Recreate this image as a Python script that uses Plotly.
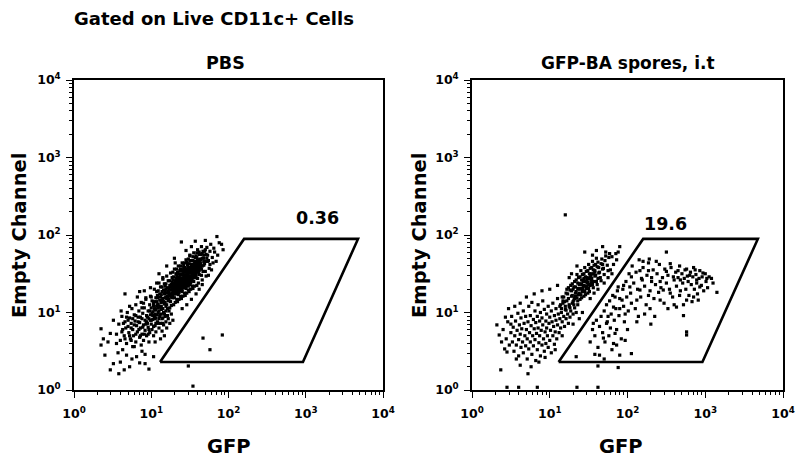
import plotly.graph_objects as go

# ---- Event positions, as log10(value) pairs (GFP, Empty Channel) ----
pbs_core_log = [
    (0.98,1.02),(1.01,1.15),(1.02,0.96),(0.99,1.21),(1.03,1.09),(1.00,0.90),
    (1.04,1.05),(1.06,1.19),(1.05,0.98),(1.07,1.27),(1.03,1.13),(1.06,0.93),(1.08,1.10),(1.04,1.30),
    (1.09,1.11),(1.11,1.24),(1.10,1.02),(1.12,1.33),(1.08,1.19),(1.11,0.97),(1.13,1.15),(1.09,1.28),(1.12,1.07),(1.10,1.38),
    (1.14,1.16),(1.16,1.29),(1.15,1.05),(1.17,1.37),(1.13,1.23),(1.16,1.00),(1.18,1.19),(1.14,1.33),(1.17,1.11),(1.15,1.43),(1.13,1.08),(1.18,1.26),
    (1.19,1.20),(1.21,1.32),(1.20,1.10),(1.22,1.41),(1.18,1.27),(1.21,1.05),(1.23,1.23),(1.19,1.37),(1.22,1.15),(1.20,1.47),(1.18,1.13),(1.23,1.30),(1.21,1.25),(1.19,1.02),
    (1.24,1.24),(1.26,1.36),(1.25,1.14),(1.27,1.45),(1.23,1.31),(1.26,1.09),(1.28,1.27),(1.24,1.41),(1.27,1.19),(1.25,1.51),(1.23,1.17),(1.28,1.34),(1.26,1.29),(1.24,1.06),(1.27,1.39),(1.25,1.22),
    (1.29,1.29),(1.31,1.41),(1.30,1.19),(1.32,1.50),(1.28,1.36),(1.31,1.13),(1.33,1.32),(1.29,1.46),(1.32,1.24),(1.30,1.56),(1.28,1.22),(1.33,1.39),(1.31,1.34),(1.29,1.10),(1.32,1.44),(1.30,1.27),(1.33,1.17),(1.28,1.52),
    (1.34,1.33),(1.36,1.45),(1.35,1.23),(1.37,1.54),(1.33,1.40),(1.36,1.17),(1.38,1.36),(1.34,1.50),(1.37,1.28),(1.35,1.60),(1.33,1.26),(1.38,1.43),(1.36,1.38),(1.34,1.14),(1.37,1.48),(1.35,1.31),(1.38,1.21),(1.33,1.56),(1.36,1.41),(1.34,1.35),
    (1.39,1.37),(1.41,1.49),(1.40,1.27),(1.42,1.58),(1.38,1.44),(1.41,1.21),(1.43,1.40),(1.39,1.54),(1.42,1.32),(1.40,1.64),(1.38,1.30),(1.43,1.47),(1.41,1.42),(1.39,1.18),(1.42,1.52),(1.40,1.35),(1.43,1.25),(1.38,1.60),(1.41,1.45),(1.39,1.39),
    (1.44,1.41),(1.46,1.53),(1.45,1.31),(1.47,1.62),(1.43,1.48),(1.46,1.25),(1.48,1.44),(1.44,1.58),(1.47,1.36),(1.45,1.68),(1.43,1.34),(1.48,1.51),(1.46,1.46),(1.44,1.22),(1.47,1.56),(1.45,1.39),(1.48,1.29),(1.43,1.64),(1.46,1.49),(1.44,1.43),
    (1.49,1.46),(1.51,1.58),(1.50,1.36),(1.52,1.67),(1.48,1.53),(1.51,1.30),(1.53,1.49),(1.49,1.63),(1.52,1.41),(1.50,1.73),(1.48,1.39),(1.53,1.56),(1.51,1.51),(1.49,1.27),(1.52,1.61),(1.50,1.44),(1.53,1.34),(1.48,1.69),
    (1.54,1.50),(1.56,1.62),(1.55,1.40),(1.57,1.71),(1.53,1.57),(1.56,1.34),(1.58,1.53),(1.54,1.67),(1.57,1.45),(1.55,1.77),(1.53,1.43),(1.58,1.60),(1.56,1.55),(1.54,1.31),(1.57,1.65),(1.55,1.48),
    (1.59,1.54),(1.61,1.66),(1.60,1.44),(1.62,1.75),(1.58,1.61),(1.61,1.38),(1.63,1.57),(1.59,1.71),(1.62,1.49),(1.60,1.81),(1.58,1.47),(1.63,1.64),(1.61,1.59),(1.59,1.35),
    (1.64,1.58),(1.66,1.70),(1.65,1.48),(1.67,1.79),(1.63,1.65),(1.66,1.42),(1.68,1.61),(1.64,1.75),(1.67,1.53),(1.65,1.85),
    (1.69,1.63),(1.71,1.75),(1.70,1.53),(1.72,1.84),(1.68,1.70),(1.71,1.47),(1.73,1.66),(1.69,1.79),
    (1.74,1.67),(1.76,1.79),(1.75,1.57),(1.77,1.88),(1.73,1.74),(1.76,1.62),
    (1.79,1.71),(1.81,1.83),(1.80,1.64),(1.82,1.78),
    (1.36,1.50),(1.40,1.50),(1.44,1.53),(1.48,1.58),(1.52,1.62),(1.56,1.66),(1.60,1.68),(1.47,1.42),(1.51,1.47),(1.55,1.52),
    (1.42,1.38),(1.38,1.33),(1.34,1.28),(1.30,1.24),(1.26,1.20),(1.22,1.18),(1.46,1.35),(1.50,1.40),(1.54,1.46),(1.58,1.50),
]
pbs_core_extra_log = [
    (1.12,1.20),(1.14,1.27),(1.16,1.14),(1.18,1.34),(1.20,1.18),(1.22,1.27),(1.24,1.35),(1.26,1.22),(1.28,1.42),(1.30,1.32),
    (1.32,1.29),(1.34,1.45),(1.36,1.33),(1.38,1.49),(1.40,1.40),(1.42,1.36),(1.44,1.52),(1.46,1.42),(1.48,1.34),(1.50,1.56),
    (1.52,1.47),(1.54,1.62),(1.56,1.45),(1.58,1.57),(1.60,1.63),(1.62,1.54),(1.64,1.68),(1.66,1.60),(1.68,1.74),(1.70,1.66),
    (1.27,1.25),(1.29,1.38),(1.31,1.28),(1.33,1.48),(1.35,1.36),(1.37,1.40),(1.39,1.33),(1.41,1.55),(1.43,1.44),(1.45,1.48),
    (1.47,1.40),(1.49,1.51),(1.51,1.38),(1.53,1.53),(1.55,1.59),(1.57,1.50),(1.59,1.66),(1.61,1.52),(1.63,1.60),(1.65,1.56),
    (1.25,1.33),(1.27,1.31),(1.29,1.34),(1.31,1.37),(1.33,1.36),(1.35,1.42),(1.37,1.35),(1.39,1.43),(1.41,1.38),(1.43,1.56),
    (1.45,1.44),(1.47,1.49),(1.49,1.42),(1.51,1.55),(1.53,1.46),(1.55,1.57),(1.57,1.53),(1.59,1.58),(1.61,1.62),(1.63,1.69),
    (1.21,1.21),(1.23,1.26),(1.19,1.30),(1.17,1.24),(1.15,1.18),(1.13,1.13),(1.11,1.16),(1.09,1.06),(1.07,1.14),(1.05,1.03),
    (1.36,1.26),(1.40,1.30),(1.44,1.37),(1.48,1.47),(1.52,1.52),(1.56,1.58),(1.60,1.57),(1.64,1.63),(1.68,1.66),(1.72,1.70),
    (1.34,1.52),(1.38,1.56),(1.42,1.61),(1.46,1.65),(1.50,1.67),(1.54,1.72),(1.58,1.73),(1.62,1.78),(1.66,1.76),(1.70,1.81),
]
pbs_halo_log = [
    (1.39,1.91),(1.85,1.98),(1.91,1.88),(1.93,1.81),(1.62,1.30),(1.66,1.36),(1.74,1.48),(1.78,1.55),
    (1.84,1.66),(1.86,1.74),(1.88,1.90),(1.57,1.92),(1.70,1.93),(1.52,1.85),(1.45,1.80),(1.30,1.70),
    (1.20,1.60),(1.10,1.50),(1.52,1.17),(1.46,1.10),(1.40,1.05),(1.58,1.24),(0.85,1.27),(0.93,1.19),
    (1.07,1.38),(1.15,1.45),(1.31,1.64),(1.50,1.74),(1.59,1.77),
]
pbs_low_log = [
    (0.55,0.72),(0.58,0.85),(0.60,0.64),(0.62,0.95),(0.63,0.78),(0.65,0.70),(0.66,0.88),(0.68,0.60),(0.69,1.00),(0.70,0.82),
    (0.71,0.74),(0.72,0.93),(0.73,0.66),(0.74,0.86),(0.75,1.05),(0.76,0.78),(0.77,0.70),(0.78,0.97),(0.79,0.89),(0.80,0.62),
    (0.80,1.10),(0.81,0.83),(0.82,0.75),(0.83,0.94),(0.84,1.02),(0.85,0.68),(0.85,0.87),(0.86,0.80),(0.87,1.13),(0.88,0.92),
    (0.88,0.72),(0.89,0.99),(0.90,0.84),(0.90,0.64),(0.91,1.06),(0.92,0.90),(0.92,0.77),(0.93,1.17),(0.94,0.96),(0.94,0.70),
    (0.95,0.86),(0.96,1.02),(0.96,0.81),(0.97,0.92),(0.98,1.10),(0.98,0.74),(0.99,0.97),(1.00,0.85),(1.00,1.20),(1.01,0.78),
    (1.02,1.01),(1.02,0.91),(1.03,0.70),(1.04,1.14),(1.04,0.95),(1.05,0.83),(1.06,1.04),(1.06,0.75),(1.07,0.97),(1.08,0.88),
    (1.08,1.22),(1.09,1.00),(1.10,0.80),(1.10,0.92),(1.11,1.08),(1.12,0.86),(1.13,0.98),(1.14,0.76),(1.15,0.93),(1.16,0.84),
    (1.18,0.95),(1.19,0.88),(1.20,0.80),(1.22,0.92),(1.24,0.86),(1.26,0.98),(1.28,0.90),(1.17,0.70),(1.12,0.66),(0.97,0.62),
    (0.87,0.58),(0.76,0.56),(0.67,0.80),(0.72,1.08),(0.61,1.02),(0.82,1.20),(0.91,1.28),(0.99,1.32),(1.05,0.62),(1.23,1.02),
    (0.62,0.75),(0.66,0.66),(0.70,0.90),(0.74,0.80),(0.78,0.84),(0.80,0.72),(0.83,0.88),(0.86,0.94),(0.89,0.81),(0.91,0.72),
    (0.93,0.85),(0.95,0.94),(0.97,0.78),(0.99,0.90),(1.01,0.99),(1.03,0.82),(1.05,0.92),(1.07,1.08),(1.09,0.86),(1.11,0.95),
    (1.13,1.04),(1.15,0.86),(1.17,0.98),(1.19,1.08),(1.21,0.96),(0.76,0.92),(0.84,0.78),(0.88,1.06),(0.94,0.88),(1.00,1.06),
    (0.68,0.94),(0.72,0.70),(0.80,0.96),(0.90,1.12),(1.06,0.86),(1.14,0.92),(0.96,0.72),(0.86,0.70),(0.74,0.64),(0.64,0.86),
]
pbs_tail_log = [
    (0.35,0.79),(0.38,0.66),(0.35,0.58),(0.40,0.45),(0.47,0.26),(0.51,0.34),(0.58,0.21),(0.60,0.36),(0.66,1.24),
    (0.72,0.30),(0.85,0.35),(0.92,0.34),(0.97,0.27),(1.48,0.31),(1.54,0.05),(0.68,0.45),(0.63,0.52),(0.81,0.43),
    (0.92,0.46),(1.03,0.43),(0.78,0.56),(0.55,0.60),(0.47,0.73),(0.51,0.90),(0.44,0.62),(0.57,0.48),(0.88,0.50),
    (0.75,0.40),(0.65,0.26),
]
pbs_gated_log = [(1.67,0.67),(1.76,0.52),(1.92,0.71)]

spores_core_log = [
    (1.14,1.10),(1.16,1.20),(1.15,1.05),(1.17,1.15),
    (1.19,1.14),(1.21,1.25),(1.20,1.08),(1.22,1.30),(1.18,1.20),(1.21,1.03),
    (1.24,1.18),(1.26,1.29),(1.25,1.10),(1.27,1.35),(1.23,1.24),(1.26,1.06),(1.28,1.21),(1.24,1.32),
    (1.29,1.22),(1.31,1.33),(1.30,1.14),(1.32,1.40),(1.28,1.28),(1.31,1.10),(1.33,1.25),(1.29,1.37),(1.32,1.18),(1.30,1.30),
    (1.34,1.27),(1.36,1.38),(1.35,1.19),(1.37,1.45),(1.33,1.33),(1.36,1.15),(1.38,1.30),(1.34,1.42),(1.37,1.23),(1.35,1.49),(1.33,1.21),(1.38,1.36),
    (1.39,1.31),(1.41,1.42),(1.40,1.23),(1.42,1.49),(1.38,1.37),(1.41,1.19),(1.43,1.34),(1.39,1.46),(1.42,1.27),(1.40,1.54),(1.38,1.25),(1.43,1.40),(1.41,1.36),(1.39,1.17),
    (1.44,1.35),(1.46,1.46),(1.45,1.27),(1.47,1.53),(1.43,1.41),(1.46,1.23),(1.48,1.38),(1.44,1.50),(1.47,1.31),(1.45,1.58),(1.43,1.29),(1.48,1.44),(1.46,1.40),(1.44,1.21),
    (1.49,1.39),(1.51,1.50),(1.50,1.31),(1.52,1.57),(1.48,1.45),(1.51,1.27),(1.53,1.42),(1.49,1.54),(1.52,1.35),(1.50,1.62),(1.48,1.33),(1.53,1.48),(1.51,1.44),(1.49,1.25),
    (1.54,1.44),(1.56,1.55),(1.55,1.36),(1.57,1.61),(1.53,1.50),(1.56,1.32),(1.58,1.47),(1.54,1.58),(1.57,1.40),(1.55,1.66),(1.53,1.38),(1.58,1.52),
    (1.59,1.48),(1.61,1.59),(1.60,1.40),(1.62,1.65),(1.58,1.54),(1.61,1.36),(1.63,1.51),(1.59,1.62),(1.62,1.44),(1.60,1.70),
    (1.64,1.52),(1.66,1.63),(1.65,1.45),(1.67,1.69),(1.63,1.58),(1.66,1.41),(1.68,1.56),
    (1.69,1.57),(1.71,1.67),(1.70,1.49),(1.72,1.73),(1.68,1.62),
    (1.74,1.61),(1.76,1.71),(1.75,1.54),(1.77,1.76),
    (1.36,1.31),(1.40,1.37),(1.44,1.44),(1.48,1.41),(1.52,1.46),(1.56,1.50),(1.42,1.31),(1.46,1.34),(1.50,1.36),(1.54,1.40),
]
spores_halo_log = [
    (1.20,2.26),(1.45,1.78),(1.72,1.78),(1.80,1.72),(1.85,1.76),(1.88,1.78),(1.90,1.85),(1.82,1.62),
    (1.78,1.55),(1.86,1.68),(1.68,1.85),(1.60,1.80),(1.55,1.74),(1.35,1.60),(1.28,1.50),(1.10,1.35),
    (1.25,1.45),(1.62,1.30),(1.70,1.38),(1.75,1.45),(1.80,1.50),(1.57,1.25),(1.52,1.18),
]
spores_tail_log = [
    (0.32,0.84),(0.35,0.71),(0.37,0.26),(0.45,0.49),(0.72,0.21),(0.42,0.53),(0.47,1.05),(0.55,1.08),(0.62,0.32),
    (0.40,0.78),(0.44,0.66),(0.46,0.88),(0.48,0.58),(0.50,0.74),(0.51,0.95),(0.52,0.62),(0.53,0.81),(0.54,0.50),(0.55,0.70),
    (0.56,0.89),(0.57,0.58),(0.58,0.77),(0.59,0.99),(0.60,0.65),(0.60,0.44),(0.61,0.84),(0.62,0.72),(0.63,0.55),(0.63,0.93),
    (0.64,0.79),(0.65,0.62),(0.66,1.02),(0.66,0.48),(0.67,0.86),(0.68,0.70),(0.69,0.57),(0.69,0.95),(0.70,0.78),(0.71,0.40),
    (0.71,0.66),(0.72,0.88),(0.73,1.08),(0.73,0.53),(0.74,0.74),(0.75,0.96),(0.75,0.62),(0.76,0.83),(0.77,0.46),(0.77,1.13),
    (0.78,0.70),(0.79,0.91),(0.79,0.57),(0.80,0.79),(0.81,1.02),(0.81,0.65),(0.82,0.38),(0.82,0.87),(0.83,0.73),(0.84,0.95),
    (0.84,0.52),(0.85,1.10),(0.85,0.80),(0.86,0.61),(0.87,0.89),(0.87,0.70),(0.88,1.00),(0.88,0.44),(0.89,0.77),(0.90,0.58),
    (0.90,0.93),(0.91,0.84),(0.91,1.15),(0.92,0.66),(0.93,1.04),(0.93,0.50),(0.94,0.75),(0.95,0.89),(0.95,0.60),(0.96,0.98),
    (0.96,0.80),(0.97,0.70),(0.98,1.08),(0.98,0.55),(0.99,0.86),(1.00,0.94),(1.00,0.64),(1.01,0.77),(1.02,1.02),(1.02,0.48),
    (1.03,0.88),(1.04,0.70),(1.04,1.12),(1.05,0.82),(1.06,0.96),(1.06,0.59),(1.07,0.75),(1.08,1.05),(1.08,0.90),(1.09,0.66),
    (1.10,0.84),(1.10,1.18),(1.11,0.98),(1.12,0.74),(1.13,0.92),(1.13,1.08),(1.14,0.80),(1.15,1.00),(1.16,0.88),(1.17,1.12),
    (1.18,0.95),(1.19,0.82),(1.20,1.04),(1.21,0.92),(1.22,1.15),(1.23,0.98),(1.25,1.08),(1.26,0.94),(1.27,1.02),(1.29,1.12),
    (1.30,0.98),(1.32,1.06),(1.34,1.00),(1.36,1.10),(1.31,1.16),(1.24,0.86),(1.16,0.70),(1.07,0.52),(0.94,0.42),(0.86,0.36),
    (0.76,0.30),(0.57,0.40),(0.50,0.85),(0.43,0.94),(0.38,0.62),(0.62,1.12),(0.70,1.20),(0.80,1.24),(0.90,1.28),(1.00,1.30),
    (0.45,0.035),(0.60,0.035),(0.84,0.035),(1.35,0.035),(1.62,0.035),(1.62,0.31),(1.88,0.29),
    (1.30,0.85),(1.38,0.92),(1.42,1.00),
]
spores_gated_log = [
    (2.50,1.78),(2.20,1.66),(2.28,1.69),(2.37,1.66),(2.55,1.63),(2.16,1.54),(2.27,1.54),(2.05,1.46),(2.18,1.44),
    (2.31,1.45),(2.42,1.40),(2.50,1.53),(2.59,1.46),(2.65,1.54),(2.68,1.42),(2.76,1.56),(2.80,1.48),(2.87,1.55),
    (2.89,1.42),(2.97,1.51),(3.02,1.44),(3.08,1.44),(3.15,1.26),(2.93,1.33),(2.85,1.20),(2.91,1.16),(2.76,1.16),
    (2.63,1.07),(2.67,1.22),(2.55,1.25),(2.46,1.29),(2.42,1.16),(2.52,1.05),(2.35,0.95),(2.29,1.05),(2.27,1.22),
    (2.16,1.29),(2.12,1.16),(2.05,1.12),(2.14,0.95),(2.03,1.33),(1.95,1.35),(1.88,1.33),(1.93,1.16),(1.84,1.20),
    (1.82,1.07),(1.90,1.05),(1.97,0.98),(1.75,0.95),(1.73,0.86),(1.78,0.80),(1.84,0.73),(1.82,0.60),(1.69,0.67),
    (1.86,0.58),(1.97,0.64),(2.05,0.47),(1.58,0.46),(1.34,0.43),(2.72,0.96),(2.76,0.75),(2.76,0.71),
    (1.52,0.62),(1.55,0.78),(1.58,0.70),(1.60,0.90),(1.62,0.55),(1.64,0.82),(1.66,0.95),(1.68,0.74),(1.70,1.02),
    (1.71,0.62),(1.73,1.10),(1.74,0.88),(1.76,0.70),(1.77,1.15),(1.79,0.98),(1.80,0.52),(1.81,1.22),(1.83,0.90),
    (1.85,1.05),(1.86,0.78),(1.87,1.28),(1.89,0.96),(1.90,1.18),(1.92,0.66),(1.94,1.30),(1.95,1.08),(1.96,0.88),
    (1.98,1.40),(1.99,1.20),(2.00,0.78),(2.01,1.02),(1.56,0.86),(1.64,0.45),(1.90,0.45),(1.70,0.40),
    (2.02,1.50),(2.04,1.25),(2.06,1.60),(2.08,1.38),(2.10,1.05),(2.11,1.52),(2.13,1.30),(2.15,1.68),(2.17,1.20),
    (2.19,1.42),(2.20,1.58),(2.22,1.34),(2.24,1.10),(2.25,1.48),(2.27,1.64),(2.29,1.28),(2.31,1.40),(2.33,1.55),
    (2.34,1.18),(2.36,1.36),(2.38,1.50),(2.40,1.26),(2.41,1.62),(2.43,1.32),(2.45,1.45),(2.47,1.12),(2.48,1.56),
    (2.50,1.38),(2.12,0.88),(2.22,0.98),(2.30,0.85),
    (2.52,1.48),(2.54,1.30),(2.56,1.58),(2.58,1.20),(2.60,1.42),(2.62,1.52),(2.63,1.34),(2.65,1.45),(2.67,1.60),
    (2.68,1.28),(2.70,1.50),(2.71,1.38),(2.73,1.44),(2.74,1.55),(2.75,1.30),(2.77,1.47),(2.78,1.40),(2.79,1.22),
    (2.81,1.52),(2.82,1.36),(2.84,1.46),(2.85,1.58),(2.86,1.30),(2.88,1.49),(2.89,1.38),(2.90,1.24),(2.92,1.44),
    (2.93,1.54),(2.95,1.35),(2.96,1.46),(2.98,1.28),(3.00,1.50),(3.01,1.40),(3.03,1.32),(3.05,1.46),(3.10,1.38),
    (2.72,1.10),(2.83,1.14),(2.60,1.10),
]

# gate polygon (GFP, Empty Channel) in data units
gate_gfp = [13, 920, 4750, 159, 13]
gate_empty = [2.3, 2.3, 89, 89, 2.3]

panel_titles = ["PBS", "GFP-BA spores, i.t"]
gate_percent = ["0.36", "19.6"]
major_ticks = [1, 10, 100, 1000, 10000]
major_text = ["10<sup>0</sup>", "10<sup>1</sup>", "10<sup>2</sup>", "10<sup>3</sup>", "10<sup>4</sup>"]
minor_ticks = [m * 10 ** k for k in range(4) for m in range(2, 10)]

FONT = "DejaVu Sans"


def to_values(*groups):
    xs, ys = [], []
    for g in groups:
        for lx, ly in g:
            xs.append(10 ** lx)
            ys.append(10 ** ly)
    return xs, ys


fig = go.Figure()
panels = [
    to_values(pbs_core_log, pbs_core_extra_log, pbs_halo_log, pbs_low_log, pbs_tail_log, pbs_gated_log),
    to_values(spores_core_log, spores_halo_log, spores_tail_log, spores_gated_log),
]
for i, (xs, ys) in enumerate(panels):
    xa = "x" if i == 0 else "x2"
    ya = "y" if i == 0 else "y2"
    fig.add_trace(go.Scatter(x=xs, y=ys, mode="markers", xaxis=xa, yaxis=ya,
                             marker=dict(symbol="square", size=3.2, color="black", line=dict(width=0)),
                             showlegend=False, hoverinfo="skip"))
    fig.add_trace(go.Scatter(x=gate_gfp, y=gate_empty, mode="lines", xaxis=xa, yaxis=ya,
                             line=dict(color="black", width=2.6), showlegend=False, hoverinfo="skip"))

W, H = 800, 462
ydom = [(H - 390) / H, (H - 80) / H]
axis_common = dict(
    type="log", range=[0, 4], showgrid=False, zeroline=False, automargin=False,
    showline=True, linecolor="black", linewidth=1.6, mirror=True,
    ticks="outside", ticklen=6, tickwidth=1.4, tickcolor="black",
    tickvals=major_ticks, ticktext=major_text,
    tickfont=dict(family=FONT, size=12.5, color="black", weight="bold"),
    minor=dict(tickvals=minor_ticks, ticks="outside", ticklen=3.5, tickwidth=1.1, tickcolor="black", showgrid=False),
)
xaxis_extra = dict(ticklabelstandoff=5)
yaxis_extra = dict(ticklabelstandoff=3)
fig.update_layout(
    width=W, height=H, margin=dict(l=0, r=0, t=0, b=0, autoexpand=False),
    paper_bgcolor="white", plot_bgcolor="white",
    xaxis=dict(domain=[74 / W, 383 / W], anchor="y", **axis_common, **xaxis_extra),
    yaxis=dict(domain=ydom, anchor="x", **axis_common, **yaxis_extra),
    xaxis2=dict(domain=[472 / W, 783 / W], anchor="y2", **axis_common, **xaxis_extra),
    yaxis2=dict(domain=ydom, anchor="x2", **axis_common, **yaxis_extra),
)

def txt(x, y, s, size, angle=0, xanchor="center"):
    fig.add_annotation(x=x / W, y=(H - y) / H, xref="paper", yref="paper", text=s, showarrow=False,
                       xanchor=xanchor, yanchor="middle", textangle=angle,
                       font=dict(family=FONT, size=size, color="black", weight="bold"))

txt(72, 19, "Gated on Live CD11c+ Cells", 18, xanchor="left")
txt(226, 63, panel_titles[0], 17.5)
txt(628, 63, panel_titles[1], 17)
txt(317, 218, gate_percent[0], 17.5)
txt(665, 224, gate_percent[1], 17.5)
txt(19, 236, "Empty Channel", 19.5, angle=-90)
txt(419, 236, "Empty Channel", 19.5, angle=-90)
txt(229, 446, "GFP", 19.5)
txt(621, 446, "GFP", 19.5)

fig.write_html("out.html", config={"displayModeBar": False},
               post_script="document.body.style.margin='0';document.body.style.overflow='hidden';")
